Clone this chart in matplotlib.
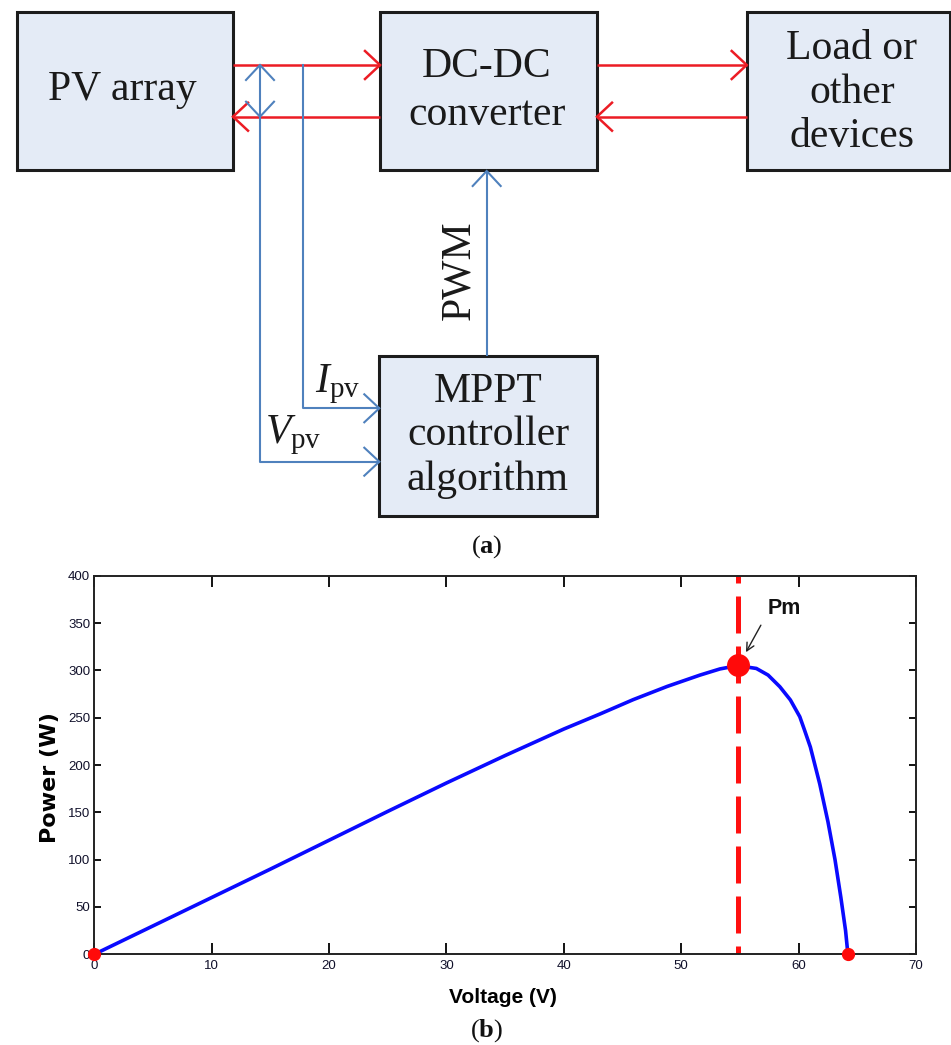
import numpy as np
import matplotlib
matplotlib.use("Agg")
import matplotlib.pyplot as plt

# ---------------- data ----------------
voltage = [0, 5, 10, 15, 20, 25, 30, 35, 40, 43.1, 45.9, 48.8, 51.6, 53.3,
           54.8, 56.4, 57.4, 58.4, 59.3, 60.1, 60.5, 61.0, 61.8, 62.5, 63.1,
           63.6, 64.0, 64.2]
power = [0, 30, 60, 90, 120.5, 151, 181, 210, 238, 254, 269, 283,
         295, 301.5, 305, 302, 295, 282.7, 268.7, 251, 237, 219, 180, 140,
         100, 60, 25, 0]
v_mpp, p_mpp = 54.8, 305.5
v_oc = 64.2
x_ticks = [0, 10, 20, 30, 40, 50, 60, 70]
y_ticks = [0, 50, 100, 150, 200, 250, 300, 350, 400]

block_labels = ["PV array", "DC-DC\nconverter", "Load or\nother\ndevices",
                "MPPT\ncontroller\nalgorithm"]

W, H = 951, 1045
fig = plt.figure(figsize=(W / 100, H / 100), dpi=100)

plt.rcParams['mathtext.fontset'] = 'custom'
plt.rcParams['mathtext.rm'] = 'Liberation Serif'
plt.rcParams['mathtext.it'] = 'Liberation Serif:italic'
plt.rcParams['mathtext.bf'] = 'Liberation Serif:bold'

# ---------------- diagram (a) ----------------
dax = fig.add_axes([0, 0, 1, 1])
dax.set_xlim(0, W)
dax.set_ylim(H, 0)
dax.axis('off')

box_fc = '#e4ebf6'
box_ec = '#1c1c1c'
red = '#ec1c24'
blue = '#4f81bd'
serif = 'Liberation Serif'
fs_box = 30

boxes = [(16.7, 11.7, 232.7, 170), (380, 11.7, 596.7, 170),
         (746.7, 11.7, 950, 170), (379.3, 356, 597.3, 516)]
for (x0, y0, x1, y1) in boxes:
    dax.add_patch(plt.Rectangle((x0, y0), x1 - x0, y1 - y0, facecolor=box_fc,
                                edgecolor=box_ec, lw=2.2, zorder=2))

label_pos = [(122, [100]), (487, [76.7, 125]),
             (851.7, [59.3, 103.3, 146.7]),
             (488, [401.7, 445, 490])]
for lab, (cx, bases) in zip(block_labels, label_pos):
    for line, yb in zip(lab.split("\n"), bases):
        dax.text(cx, yb, line, ha='center', va='baseline', fontsize=fs_box,
                 family=serif, color='#1a1a1a', zorder=3)


def chevron_arrow(x0, y0, x1, y1, color, lw=1.5, hl=15, hw=14, both=False):
    dax.plot([x0, x1], [y0, y1], color=color, lw=lw, solid_capstyle='butt', zorder=4)
    ends = [((x0, y0), (x1, y1))]
    if both:
        ends.append(((x1, y1), (x0, y0)))
    for (sx, sy), (tx, ty) in ends:
        u = np.array([tx - sx, ty - sy], dtype=float)
        u /= np.hypot(*u)
        n = np.array([-u[1], u[0]])
        tip = np.array([tx, ty])
        w1 = tip - hl * u + hw * n
        w2 = tip - hl * u - hw * n
        dax.plot([w1[0], tip[0], w2[0]], [w1[1], tip[1], w2[1]], color=color,
                 lw=lw, solid_joinstyle='miter', zorder=4)


# red power arrows
chevron_arrow(233, 65, 380, 65, red, lw=1.8)
chevron_arrow(380, 116.7, 233, 116.7, red, lw=1.8)
chevron_arrow(597, 65, 746.7, 65, red, lw=1.8)
chevron_arrow(746.7, 116.7, 597, 116.7, red, lw=1.8)

# blue signal lines
chevron_arrow(260, 116.7, 260, 65, blue, lw=1.5, both=True)
dax.plot([260, 260, 379.3], [116.7, 461.7, 461.7], color=blue, lw=1.5, zorder=4)
chevron_arrow(370, 461.7, 379.3, 461.7, blue, lw=1.5)
dax.plot([302.7, 302.7, 379.3], [65, 408.3, 408.3], color=blue, lw=1.5, zorder=4)
chevron_arrow(370, 408.3, 379.3, 408.3, blue, lw=1.5)
chevron_arrow(486.7, 356, 486.7, 171, blue, lw=1.5)

dax.text(478, 270, "PWM", rotation=90, ha='right', va='center', fontsize=fs_box,
         family=serif, color='#1a1a1a', zorder=3)
dax.text(315, 392, r"$I_{\mathrm{pv}}$", ha='left', va='baseline', fontsize=fs_box,
         color='#1a1a1a', zorder=3)
dax.text(265, 443, r"$V_{\mathrm{pv}}$", ha='left', va='baseline', fontsize=fs_box,
         color='#1a1a1a', zorder=3)
dax.text(487, 553, r"($\mathbf{a}$)", ha='center', va='baseline', fontsize=19,
         family=serif, color='#111111')
dax.text(487, 1037, r"($\mathbf{b}$)", ha='center', va='baseline', fontsize=19,
         family=serif, color='#111111')

# ---------------- chart (b) ----------------
L, R, T, B = 94.3, 916, 575.7, 954.3
ax = fig.add_axes([L / W, (H - B) / H, (R - L) / W, (B - T) / H])
ax.set_xlim(0, 70)
ax.set_ylim(0, 400)

sans = 'Liberation Sans'

ax.axvline(v_mpp, color='#ff1010', lw=3.6,
           linestyle=(5.8, (7.4, 2.6)), zorder=2)
ax.plot(voltage, power, color='#0a0aff', lw=2.6, zorder=3,
        solid_joinstyle='round')
ax.plot([v_mpp], [p_mpp], 'o', color='#ff0a0a', ms=15.5, zorder=4, clip_on=False)
ax.plot([0, v_oc], [0, 0], 'o', color='#ff0a0a', ms=8.5, zorder=4, clip_on=False)

ax.annotate('', xy=(55.4, 316.6), xytext=(56.9, 350.3),
            arrowprops=dict(arrowstyle='->', color='#222222', lw=1.0,
                            mutation_scale=14))
ax.text(57.4, 359.6, 'Pm', ha='left', va='baseline', fontsize=15.5,
        fontweight='bold', family=sans, color='#111111')

ax.set_xticks(x_ticks)
ax.set_yticks(y_ticks)
ax.set_xticklabels([str(t) for t in x_ticks], family=sans, fontsize=9.5,
                   color='#10102a')
ax.set_yticklabels([str(t) for t in y_ticks], family=sans, fontsize=9.5,
                   color='#10102a')
ax.tick_params(axis='x', direction='in', length=8, width=1.3, top=True, pad=4)
ax.tick_params(axis='y', direction='in', length=5, width=1.3, right=True, pad=3)
for s in ax.spines.values():
    s.set_linewidth(1.4)
    s.set_color('#222222')

ax.set_xlabel('Voltage (V)', fontsize=15, fontweight='bold', family=sans)
ax.set_ylabel('Power (W)', fontsize=16, fontweight='bold', family='DejaVu Sans')
ax.xaxis.set_label_coords(((503 - L) / (R - L)), -((1003 - B) / (B - T)))
ax.xaxis.label.set_va('baseline')
ax.yaxis.set_label_coords(-((L - 50) / (R - L)), (B - 778) / (B - T))
ax.yaxis.label.set_va('center')

fig.savefig('out.png', dpi=100)
